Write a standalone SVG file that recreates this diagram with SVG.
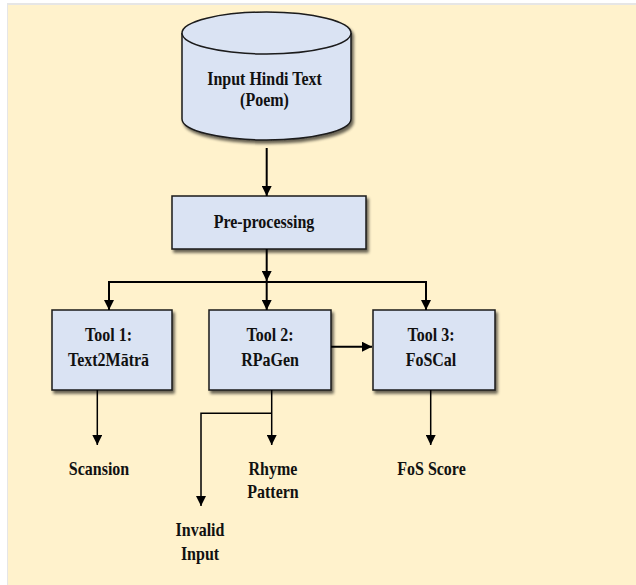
<svg xmlns="http://www.w3.org/2000/svg" width="636" height="585" viewBox="0 0 636 585">
<defs>
<marker id="ah" viewBox="0 0 10 10" refX="10" refY="5" markerWidth="10" markerHeight="10" markerUnits="userSpaceOnUse" orient="auto">
<path d="M0,0 L10,5 L0,10 Z" fill="#000"/>
</marker>
<filter id="sh" x="-10%" y="-10%" width="125%" height="130%">
<feGaussianBlur in="SourceAlpha" stdDeviation="1.5"/>
<feOffset dx="1.5" dy="2.5" result="b"/>
<feComponentTransfer><feFuncA type="linear" slope="0.6"/></feComponentTransfer>
<feMerge><feMergeNode/><feMergeNode in="SourceGraphic"/></feMerge>
</filter>
</defs>
<style>
.box{fill:#dae3f3;stroke:#1a1a1a;stroke-width:1.5;}
.t{font-family:'Liberation Serif','DejaVu Serif',serif;font-weight:700;font-size:16px;fill:#111;text-anchor:middle;}
.c{fill:none;stroke:#000;stroke-width:2;}
.c1{fill:none;stroke:#000;stroke-width:1.5;}
</style>
<rect x="0" y="0" width="636" height="585" fill="#ffffff"/>
<rect x="7" y="3" width="629" height="582" fill="#e6e6e6"/>
<rect x="8" y="5" width="628" height="580" fill="#fff2cc"/>

<g id="input">
<g filter="url(#sh)">
<path class="box" d="M182,33 L182,119 A84.5,21 0 0 0 351,119 L351,33 A84.5,21 0 0 0 182,33 Z"/>
<path class="box" d="M182,33 A84.5,21 0 0 0 351,33"/>
</g>
<text class="t" transform="translate(264.5,85) scale(1,1.16)">Input Hindi Text</text>
<text class="t" transform="translate(264.5,106) scale(1,1.16)">(Poem)</text>
</g>

<g id="preprocessing">
<rect class="box" x="172" y="196" width="194" height="53" filter="url(#sh)"/>
<text class="t" transform="translate(264,228) scale(1,1.16)">Pre-processing</text>
</g>

<g id="tool1">
<rect class="box" x="52" y="310" width="120" height="80" filter="url(#sh)"/>
<text class="t" transform="translate(108.5,341) scale(1,1.16)">Tool 1:</text>
<text class="t" transform="translate(108.5,366) scale(1,1.16)">Text2Mātrā</text>
</g>

<g id="tool2">
<rect class="box" x="209" y="310" width="122" height="80" filter="url(#sh)"/>
<text class="t" transform="translate(270,341) scale(1,1.16)">Tool 2:</text>
<text class="t" transform="translate(270,366) scale(1,1.16)">RPaGen</text>
</g>

<g id="tool3">
<rect class="box" x="373" y="310" width="122" height="80" filter="url(#sh)"/>
<text class="t" transform="translate(431,341) scale(1,1.16)">Tool 3:</text>
<text class="t" transform="translate(431,366) scale(1,1.16)">FoSCal</text>
</g>

<g id="outputs">
<text class="t" transform="translate(99,475) scale(1,1.16)">Scansion</text>
<text class="t" transform="translate(273,475) scale(1,1.16)">Rhyme</text>
<text class="t" transform="translate(273,498) scale(1,1.16)">Pattern</text>
<text class="t" transform="translate(431.5,475) scale(1,1.16)">FoS Score</text>
<text class="t" transform="translate(200,536) scale(1,1.16)">Invalid</text>
<text class="t" transform="translate(200,560) scale(1,1.16)">Input</text>
</g>

<g id="connectors">
<line class="c" x1="266.7" y1="148" x2="266.7" y2="196" marker-end="url(#ah)"/>
<line class="c" x1="266.7" y1="249" x2="266.7" y2="281" marker-end="url(#ah)"/>
<polyline class="c" points="109,310 109,282 426,282 426,310" marker-end="url(#ah)"/>
<path class="c" d="M109,296 L109,310" marker-end="url(#ah)"/>
<line class="c" x1="266.7" y1="282" x2="266.7" y2="310" marker-end="url(#ah)"/>
<line class="c" x1="331" y1="346.7" x2="372" y2="346.7" marker-end="url(#ah)"/>
<line class="c1" x1="97.3" y1="390" x2="97.3" y2="445" marker-end="url(#ah)"/>
<line class="c1" x1="271.7" y1="390" x2="271.7" y2="445" marker-end="url(#ah)"/>
<polyline class="c1" points="271.7,413.3 201,413.3 201,506" marker-end="url(#ah)"/>
<line class="c1" x1="430.7" y1="390" x2="430.7" y2="445" marker-end="url(#ah)"/>
</g>
</svg>
